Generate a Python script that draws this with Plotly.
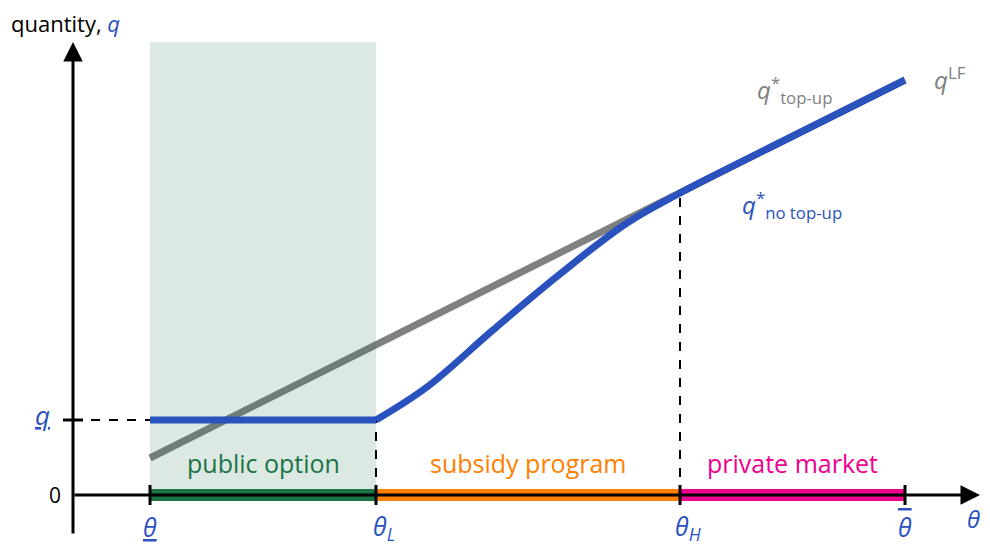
import plotly.graph_objects as go

# Key thresholds on the theta axis
theta_ticks = [0.77, 3.03, 6.07, 8.32]   # theta_low, theta_L, theta_H, theta_bar
q_floor = 0.75

# q*_top-up (gray, linear)
gray_x = [0.77, 8.32]
gray_y = [0.37, 4.15]

# q*_no top-up (blue): flat part, then smooth rise joining the gray line
blue_flat_x = [0.77, 3.03]
blue_flat_y = [0.75, 0.75]
blue_x = [3.03, 3.54, 4.20, 4.87, 5.54, 6.07, 7.20, 8.32]
blue_y = [0.75, 1.08, 1.65, 2.21, 2.72, 3.02, 3.59, 4.15]

# regions on the theta axis
region_names = ["public option", "subsidy program", "private market"]
region_colors = ["#1b7345", "#ff8000", "#ec008c"]

FONT = "Open Sans"
BLUE = "#2a52be"
GRAY = "#808080"

fig = go.Figure()

# gray line (drawn below the shade)
fig.add_trace(go.Scatter(x=gray_x, y=gray_y, mode="lines",
                         line=dict(color=GRAY, width=7)))

# shaded public-option band
fig.add_trace(go.Scatter(
    x=[theta_ticks[0], theta_ticks[1], theta_ticks[1], theta_ticks[0], theta_ticks[0]],
    y=[0, 0, 4.53, 4.53, 0],
    mode="lines", fill="toself", fillcolor="rgba(27,115,69,0.155)",
    line=dict(width=0)))

# dashed guides
dash = dict(color="black", width=2, dash="dash")
fig.add_trace(go.Scatter(x=[0, theta_ticks[0]], y=[q_floor, q_floor], mode="lines", line=dash))
fig.add_trace(go.Scatter(x=[theta_ticks[1], theta_ticks[1]], y=[0, q_floor], mode="lines", line=dash))
fig.add_trace(go.Scatter(x=[theta_ticks[2], theta_ticks[2]], y=[0, blue_y[5]], mode="lines", line=dash))

# blue line
fig.add_trace(go.Scatter(x=blue_flat_x, y=blue_flat_y, mode="lines",
                         line=dict(color=BLUE, width=7)))
fig.add_trace(go.Scatter(x=blue_x, y=blue_y, mode="lines",
                         line=dict(color=BLUE, width=7, shape="spline", smoothing=1)))

# axes (arrows)
fig.add_annotation(x=0, y=4.53, ax=0, ay=-0.40, xref="x", yref="y", axref="x", ayref="y",
                   showarrow=True, arrowhead=2, arrowsize=1.3, arrowwidth=3, arrowcolor="black", text="")
fig.add_annotation(x=9.07, y=0, ax=0, ay=0, xref="x", yref="y", axref="x", ayref="y",
                   showarrow=True, arrowhead=2, arrowsize=1.3, arrowwidth=3, arrowcolor="black", text="")

# colored region bars along the theta axis
for i, (name, col) in enumerate(zip(region_names, region_colors)):
    x0, x1 = theta_ticks[i], theta_ticks[i + 1]
    fig.add_trace(go.Scatter(x=[x0, x1], y=[0, 0], mode="lines",
                             line=dict(color=col, width=12)))
    fig.add_annotation(x=(x0 + x1) / 2, y=0.32, text=name, showarrow=False,
                       font=dict(family=FONT, size=25, color=col))

# ticks
for t in theta_ticks:
    fig.add_trace(go.Scatter(x=[t, t], y=[-0.1, 0.1], mode="lines",
                             line=dict(color="black", width=3)))
fig.add_trace(go.Scatter(x=[-0.1, 0.1], y=[q_floor, q_floor], mode="lines",
                         line=dict(color="black", width=3)))

# tick labels
tick_labels = ["<u><i>θ</i></u>", "<i>θ<sub>L</sub></i>", "<i>θ<sub>H</sub></i>",
               "<span style='text-decoration:overline'><i>θ</i></span>"]
tick_offsets = [0, 0.08, 0.08, 0]
for t, lab, off in zip(theta_ticks, tick_labels, tick_offsets):
    fig.add_annotation(x=t + off, y=-0.32, text=lab, showarrow=False,
                       font=dict(family=FONT, size=25, color=BLUE))

fig.add_annotation(x=9.0, y=-0.23, xanchor="center", text="<i>θ</i>", showarrow=False,
                   font=dict(family=FONT, size=24, color=BLUE))
fig.add_annotation(x=-0.18, y=0, text="0", showarrow=False,
                   font=dict(family=FONT, size=21, color="black"))
fig.add_annotation(x=-0.31, y=0.80, text="<u><i>q</i></u>", showarrow=False,
                   font=dict(family=FONT, size=26, color=BLUE))
fig.add_annotation(x=-0.64, y=4.72, xanchor="left",
                   text="quantity, <span style='color:%s'><i>q</i></span>" % BLUE,
                   showarrow=False, font=dict(family=FONT, size=22, color="black"))

# curve labels
fig.add_annotation(x=6.82, y=4.05, xanchor="left",
                   text="<i>q</i><sup>*</sup><sub>top-up</sub>", showarrow=False,
                   font=dict(family=FONT, size=24, color=GRAY))
fig.add_annotation(x=8.59, y=4.17, xanchor="left",
                   text="<i>q</i><sup>LF</sup>", showarrow=False,
                   font=dict(family=FONT, size=24, color=GRAY))
fig.add_annotation(x=6.67, y=2.90, xanchor="left",
                   text="<i>q</i><sup>*</sup><sub>no top-up</sub>", showarrow=False,
                   font=dict(family=FONT, size=24, color=BLUE))

# the page adds an 8px body margin, so the figure is 8px smaller than the window
fig.update_layout(
    width=982, height=538,
    margin=dict(l=0, r=0, t=0, b=0),
    paper_bgcolor="white", plot_bgcolor="white",
    showlegend=False,
    xaxis=dict(range=[-0.65, 9.17], visible=False, fixedrange=True),
    yaxis=dict(range=[-0.51, 4.87], visible=False, fixedrange=True),
)

fig.write_html("out.html")
